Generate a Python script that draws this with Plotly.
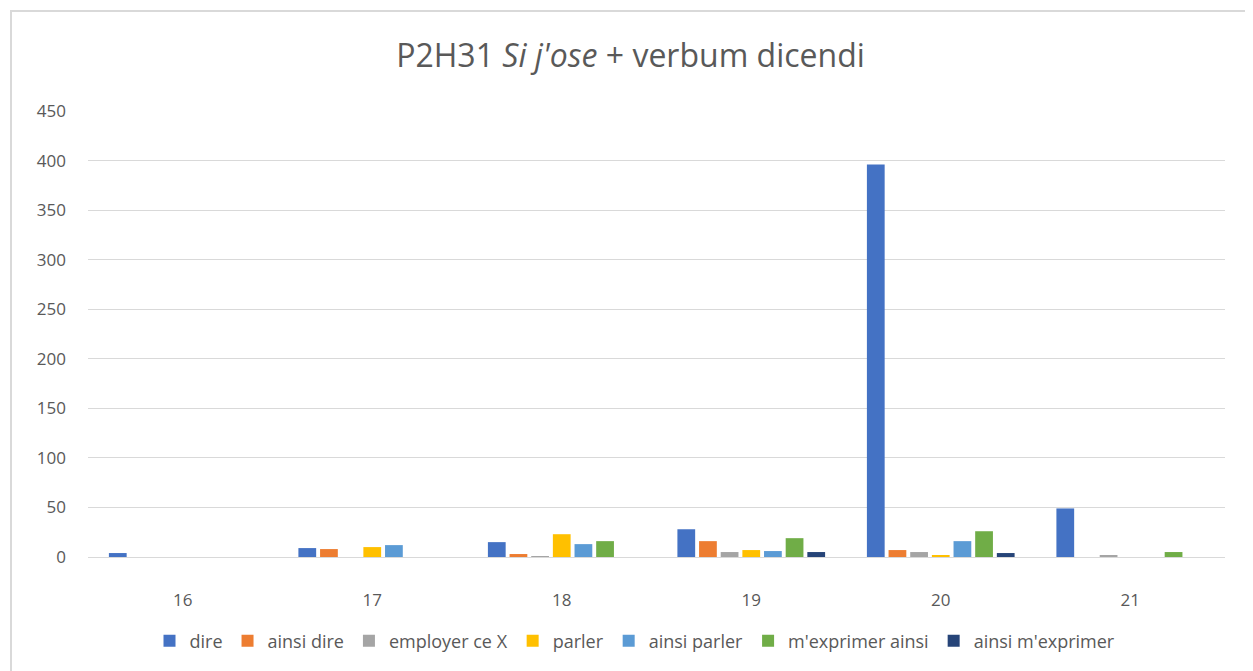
import plotly.graph_objects as go

categories = ["16", "17", "18", "19", "20", "21"]
series_names = ["dire", "ainsi dire", "employer ce X", "parler", "ainsi parler",
                "m'exprimer ainsi", "ainsi m'exprimer"]
dire = [4, 9, 15, 28, 396, 49]
ainsi_dire = [0, 8, 3, 16, 7, 0]
employer_ce_x = [0, 0, 1, 5, 5, 2]
parler = [0, 10, 23, 7, 2, 0]
ainsi_parler = [0, 12, 13, 6, 16, 0]
mexprimer_ainsi = [0, 0, 16, 19, 26, 5]
ainsi_mexprimer = [0, 0, 0, 5, 4, 0]
y_ticks = [0, 50, 100, 150, 200, 250, 300, 350, 400, 450]

series_values = [dire, ainsi_dire, employer_ce_x, parler, ainsi_parler,
                 mexprimer_ainsi, ainsi_mexprimer]
colors = ["#4472C4", "#ED7D31", "#A5A5A5", "#FFC000", "#5B9BD5", "#70AD47", "#264478"]

fig = go.Figure()
for name, vals, col in zip(series_names, series_values, colors):
    fig.add_trace(go.Bar(x=categories, y=vals, name=name, marker_color=col,
                         marker_line_width=0))

# page body has an 8px margin; figure coordinates are page coordinates - 8
W, H = 1245, 663
L, R, T, B = 80, 28, 103, 114
pw = W - L - R
ph = H - T - B

fig.update_layout(
    width=W, height=H,
    margin=dict(l=L, r=R, t=T, b=B, autoexpand=False),
    paper_bgcolor="white", plot_bgcolor="white",
    font=dict(family="Open Sans, Liberation Sans, sans-serif", color="#595959", size=16),
    title=dict(text="P2H31 <i>Si j'ose</i> + verbum dicendi", x=0.5, xanchor="center",
               xref="container", y=1 - 48 / H, yanchor="middle",
               font=dict(size=32, color="#595959")),
    barmode="group", bargap=0.2, bargroupgap=0.18,
    legend=dict(orientation="h", x=(627 - L) / pw, xanchor="center",
                y=(ph - (633 - T)) / ph, yanchor="middle",
                font=dict(size=18, color="#595959"), itemwidth=30, traceorder="normal"),
    showlegend=True,
)
fig.update_yaxes(range=[0, 450], tickvals=y_ticks, showgrid=True, gridcolor="#D9D9D9",
                 gridwidth=1, zeroline=False, showline=False, ticks="",
                 tickfont=dict(size=17, color="#595959"), ticklabelstandoff=21)
fig.update_xaxes(showline=True, linecolor="#D9D9D9", linewidth=1, ticks="",
                 tickfont=dict(size=17, color="#595959"), ticklabelstandoff=28)

# outer chart border
fig.add_shape(type="rect", xref="paper", yref="paper",
              x0=(3 - L) / pw, x1=(1244 - L) / pw,
              y0=(T + ph - (H + 10)) / ph, y1=(T + ph - 3) / ph,
              line=dict(color="#D9D9D9", width=2), fillcolor="rgba(0,0,0,0)", layer="below")

fig.write_html("out.html")
